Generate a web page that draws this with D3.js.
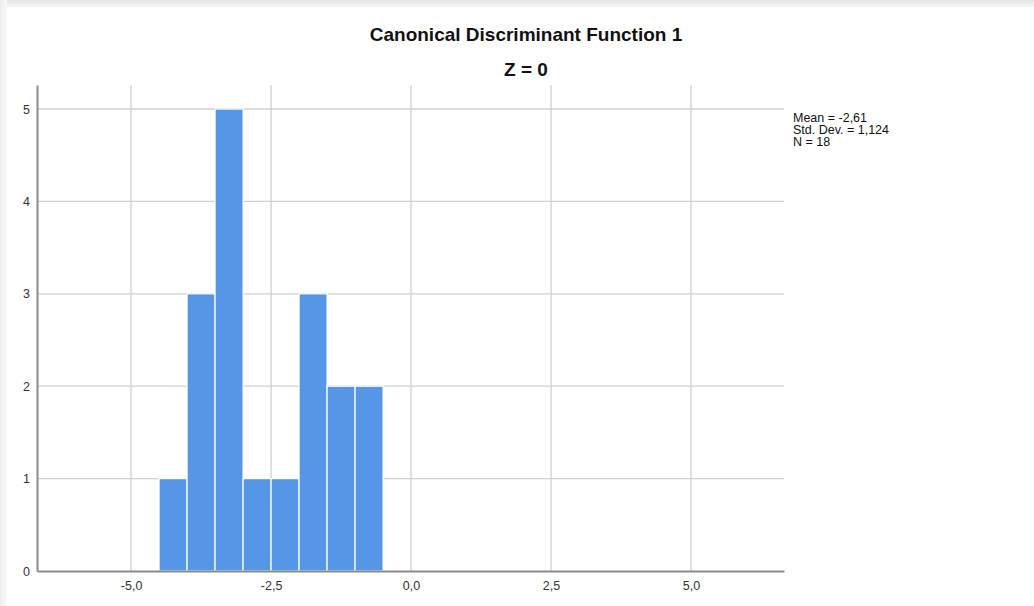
<!DOCTYPE html>
<html>
<head>
<meta charset="utf-8">
<script src="https://cdn.jsdelivr.net/npm/d3@7"></script>
<style>
  html, body { margin: 0; padding: 0; background: #fff; }
  svg { display: block; font-family: "Liberation Sans", Arial, sans-serif; }
</style>
</head>
<body>
<div id="chart"></div>
<script>
// histogram data
var binStarts = [-4.5, -4.0, -3.5, -3.0, -2.5, -2.0, -1.5, -1.0];
var binWidth = 0.5;
var counts = [1, 3, 5, 1, 1, 3, 2, 2];

// ticks
var xTicks = [-5.0, -2.5, 0.0, 2.5, 5.0];
var yTicks = [0, 1, 2, 3, 4, 5];

// texts
var title = "Canonical Discriminant Function 1";
var subtitle = "Z = 0";
var statsLines = ["Mean = -2,61", "Std. Dev. = 1,124", "N = 18"];

var width = 1034;
var height = 606;
var BARCOLOUR = "#5596E6";
var GRIDCOLOUR = "#d0d0d0";
var AXISCOLOUR = "#8a8a8a";

var svg = d3.select("#chart")
			.append("svg")
			.attr("width", width)
			.attr("height", height);

// page shadow on top/left edge
var defs = svg.append("defs");
var gTop = defs.append("linearGradient").attr("id", "shTop").attr("x1", 0).attr("y1", 0).attr("x2", 0).attr("y2", 1);
gTop.append("stop").attr("offset", "0%").attr("stop-color", "#e6e6e6");
gTop.append("stop").attr("offset", "100%").attr("stop-color", "#f6f6f6");
var gLeft = defs.append("linearGradient").attr("id", "shLeft").attr("x1", 0).attr("y1", 0).attr("x2", 1).attr("y2", 0);
gLeft.append("stop").attr("offset", "0%").attr("stop-color", "#eeeeee");
gLeft.append("stop").attr("offset", "100%").attr("stop-color", "#f8f8f8");

svg.append("rect").attr("x", 0).attr("y", 0).attr("width", width).attr("height", 7).attr("fill", "url(#shTop)");
svg.append("rect").attr("x", 0).attr("y", 0).attr("width", 7).attr("height", height).attr("fill", "url(#shLeft)");
svg.append("rect").attr("x", 7).attr("y", 7).attr("width", width - 7).attr("height", height - 7).attr("fill", "#fff");

var x = d3.scaleLinear()
			.domain([-6.68, 6.66])
			.range([37, 784]);

var y = d3.scaleLinear()
			.domain([0, 5.26])
			.range([571, 85]);

var fmt = function(d) { return d.toFixed(1).replace(".", ","); };

// gridlines
svg.append("g")
	.selectAll("line")
	.data(yTicks.filter(function(d) { return d > 0; }))
	.enter().append("line")
	.attr("x1", x.range()[0])
	.attr("x2", x.range()[1])
	.attr("y1", function(d) { return y(d); })
	.attr("y2", function(d) { return y(d); })
	.attr("stroke", GRIDCOLOUR)
	.attr("stroke-width", 1.3);

svg.append("g")
	.selectAll("line")
	.data(xTicks)
	.enter().append("line")
	.attr("x1", function(d) { return x(d); })
	.attr("x2", function(d) { return x(d); })
	.attr("y1", y.range()[1])
	.attr("y2", y.range()[0])
	.attr("stroke", GRIDCOLOUR)
	.attr("stroke-width", 1.3);

// bars
svg.append("g")
	.selectAll("rect")
	.data(counts)
	.enter().append("rect")
	.attr("x", function(d, i) { return x(binStarts[i]); })
	.attr("width", function(d, i) { return x(binStarts[i] + binWidth) - x(binStarts[i]); })
	.attr("y", function(d) { return y(d); })
	.attr("height", function(d) { return y(0) - y(d); })
	.attr("fill", BARCOLOUR)
	.attr("stroke", "#fff")
	.attr("stroke-width", 1.2);

// axes
var xAxis = svg.append("g")
	.attr("transform", "translate(0," + y(0) + ")")
	.call(d3.axisBottom(x).tickValues(xTicks).tickFormat(fmt).tickSize(0).tickPadding(10));

var yAxis = svg.append("g")
	.attr("transform", "translate(" + x.range()[0] + ",0)")
	.call(d3.axisLeft(y).tickValues(yTicks).tickFormat(d3.format("d")).tickSize(0).tickPadding(7));

[xAxis, yAxis].forEach(function(a)
{
	a.select(".domain").attr("stroke", AXISCOLOUR).attr("stroke-width", 2);
	a.selectAll("text")
		.attr("fill", "#333")
		.style("font-size", "12.5px")
		.style("font-family", "\"Liberation Sans\", Arial, sans-serif");
});

// titles
svg.append("text")
	.attr("x", 526)
	.attr("y", 41)
	.attr("text-anchor", "middle")
	.style("font-size", "19px")
	.style("font-weight", "bold")
	.attr("fill", "#111")
	.text(title);

svg.append("text")
	.attr("x", 526)
	.attr("y", 76)
	.attr("text-anchor", "middle")
	.style("font-size", "19px")
	.style("font-weight", "bold")
	.attr("fill", "#111")
	.text(subtitle);

// stats box
svg.append("g")
	.selectAll("text")
	.data(statsLines)
	.enter().append("text")
	.attr("x", 793)
	.attr("y", function(d, i) { return 121.5 + i * 12; })
	.style("font-size", "12.5px")
	.attr("fill", "#111")
	.text(function(d) { return d; });
</script>
</body>
</html>
